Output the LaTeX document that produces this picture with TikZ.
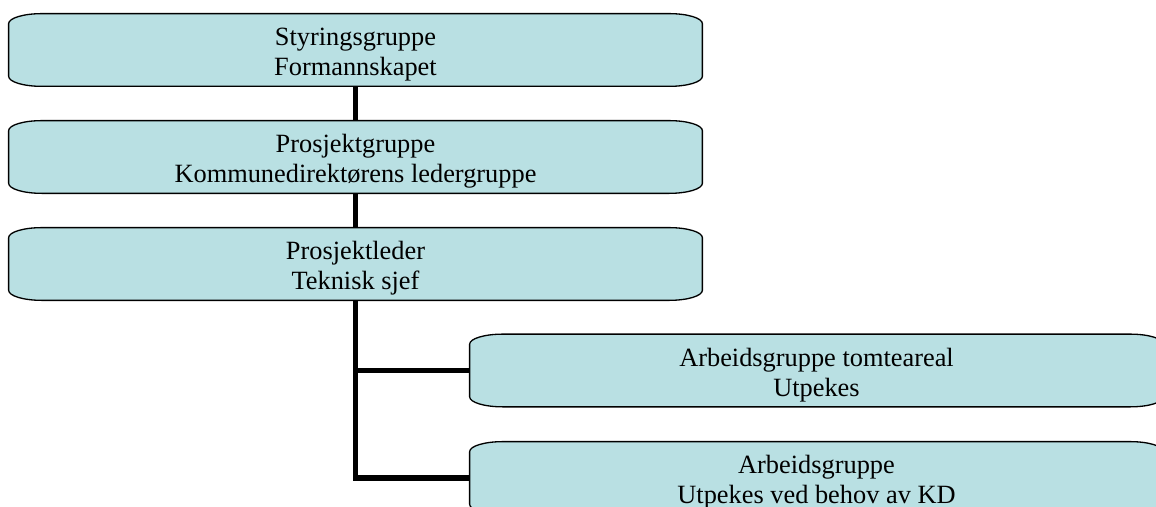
\documentclass[tikz,border=0pt]{standalone}
\usepackage{fontspec}
\setmainfont{Liberation Serif}
\usepackage{xcolor}
\usepackage{tikz}
\usetikzlibrary{backgrounds}
\definecolor{B0}{HTML}{B9E0E3}
\tikzset{
  orgbox/.style={minimum width=13.86cm, minimum height=1.44cm, inner sep=0pt},
  orgtext/.style={inner sep=0pt, align=center, font=\fontsize{15}{17.2}\selectfont},
  boxline/.style={draw=black, line width=0.75pt, fill=B0},
  link/.style={line width=2.9pt}
}

\begin{document}
\begin{tikzpicture}%
\useasboundingbox (0,0) rectangle (23.12,10.14);%
\node[orgbox] (styr) at (7.11, 9.14) {};%
\node[orgbox] (prosj) at (7.11, 7.00) {};%
\node[orgbox] (leder) at (7.11, 4.86) {};%
\node[orgbox] (arb1) at (16.33, 2.73) {};%
\node[orgbox] (arb2) at (16.33, 0.58) {};%
\begin{scope}[on background layer]%
\foreach \n in {styr,prosj,leder,arb1,arb2}{%
\path[boxline] ([yshift=-2mm]\n.north west) arc[start angle=180, end angle=90, x radius=6.6mm, y radius=2mm]%
  -- ([xshift=-6.6mm]\n.north east) arc[start angle=90, end angle=0, x radius=6.6mm, y radius=2mm]%
  -- ([yshift=2mm]\n.south east) arc[start angle=0, end angle=-90, x radius=6.6mm, y radius=2mm]%
  -- ([xshift=6.6mm]\n.south west) arc[start angle=270, end angle=180, x radius=6.6mm, y radius=2mm]%
  -- cycle;%
}%
\end{scope}%
% texts, a little below the middle of each box
\node[orgtext] (styrT) at ([yshift=-0.9mm]styr.center) {Styringsgruppe\\Formannskapet};%
\node[orgtext] (prosjT) at ([yshift=-0.9mm]prosj.center) {Prosjektgruppe\\Kommunedirektørens ledergruppe};%
\node[orgtext] (lederT) at ([yshift=-0.9mm]leder.center) {Prosjektleder\\Teknisk sjef};%
\node[orgtext] (arb1T) at ([yshift=-0.9mm]arb1.center) {Arbeidsgruppe tomteareal\\Utpekes};%
\node[orgtext] (arb2T) at ([yshift=-0.9mm]arb2.center) {Arbeidsgruppe\\Utpekes ved behov av KD};%
\draw[link] (styr) -- (prosj);%
\draw[link] (prosj) -- (leder);%
\draw[link] (leder.south) |- (arb1.west);%
\draw[link] (leder.south) |- (arb2.west);%
\end{tikzpicture}
\end{document}
